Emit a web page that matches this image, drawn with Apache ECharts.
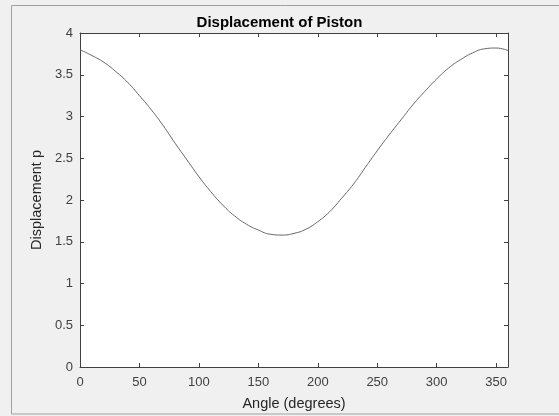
<!DOCTYPE html>
<html>
<head>
<meta charset="utf-8">
<script src="https://cdn.jsdelivr.net/npm/echarts@6/dist/echarts.min.js"></script>
<style>
html,body{margin:0;padding:0;background:#f0f0f0;}
#c{width:559px;height:416px;}
</style>
</head>
<body>
<div id="c"></div>
<script>
const angles = [0,10,20,30,40,50,60,70,80,90,100,110,120,130,140,150,160,170,180,190,200,210,220,230,240,250,260,270,280,290,300,310,320,330,340,350,360];
const displacement = [3.80,3.73,3.65,3.54,3.41,3.25,3.08,2.89,2.68,2.48,2.28,2.10,1.94,1.81,1.71,1.64,1.59,1.58,1.60,1.65,1.74,1.86,2.02,2.19,2.39,2.59,2.78,2.96,3.14,3.30,3.45,3.58,3.68,3.76,3.81,3.82,3.79];
const xTicks = [0,50,100,150,200,250,300,350];
const yTicks = [0,0.5,1,1.5,2,2.5,3,3.5,4];
const titleText = 'Displacement of Piston';
const xLabel = 'Angle (degrees)';
const yLabel = 'Displacement p';

const chart = echarts.init(document.getElementById('c'), null, {renderer:'canvas'});
const axisColor = '#404040';
const font = 'Liberation Sans, Arial, Helvetica, sans-serif';
const pts = angles.map((a,i)=>[a, displacement[i]]);
chart.setOption({
  backgroundColor: '#f0f0f0',
  animation: false,
  title: {
    text: titleText, left: 'center', top: 10,
    textStyle: {fontFamily: font, fontSize: 15, fontWeight: 'bold', color: '#000'}
  },
  graphic: [{
    type: 'rect', shape: {x: 11.5, y: 5.5, width: 600, height: 408.5},
    style: {fill: 'none', stroke: '#a0a0a0', lineWidth: 1}, silent: true, z: -1
  }],
  grid: {left: 80, right: 51, top: 33, bottom: 44, show: true, backgroundColor: '#ffffff', borderWidth: 0},
  xAxis: [{
    type: 'value', min: 0, max: 360, interval: 50,
    name: xLabel, nameLocation: 'middle', nameGap: 29,
    nameTextStyle: {fontFamily: font, fontSize: 14.5, color: '#262626'},
    axisLine: {show: true, lineStyle: {color: axisColor, width: 1}},
    axisTick: {show: true, inside: true, length: 4, lineStyle: {color: axisColor}},
    axisLabel: {fontFamily: font, fontSize: 13, color: '#404040', margin: 9,
      formatter: v => xTicks.includes(v) ? String(v) : ''},
    splitLine: {show: false}
  },{
    type: 'value', position: 'top', min: 0, max: 360, interval: 50,
    axisLine: {show: true, onZero: false, lineStyle: {color: axisColor, width: 1}},
    axisTick: {show: true, inside: true, length: 4, lineStyle: {color: axisColor}},
    axisLabel: {show: false}, splitLine: {show: false}
  }],
  yAxis: [{
    type: 'value', min: 0, max: 4, interval: 0.5,
    name: yLabel, nameLocation: 'middle', nameGap: 29,
    nameTextStyle: {fontFamily: font, fontSize: 14.5, color: '#262626'},
    axisLine: {show: true, lineStyle: {color: axisColor, width: 1}},
    axisTick: {show: true, inside: true, length: 4, lineStyle: {color: axisColor}},
    axisLabel: {fontFamily: font, fontSize: 13, color: '#404040', margin: 7,
      formatter: v => yTicks.includes(v) ? String(v) : ''},
    splitLine: {show: false}
  },{
    type: 'value', position: 'right', min: 0, max: 4, interval: 0.5,
    axisLine: {show: true, onZero: false, lineStyle: {color: axisColor, width: 1}},
    axisTick: {show: true, inside: true, length: 4, lineStyle: {color: axisColor}},
    axisLabel: {show: false}, splitLine: {show: false}
  }],
  series: [{
    type: 'line', data: pts, smooth: true, showSymbol: false,
    xAxisIndex: 0, yAxisIndex: 0,
    lineStyle: {color: '#666666', width: 1}
  }]
});
</script>
</body>
</html>
